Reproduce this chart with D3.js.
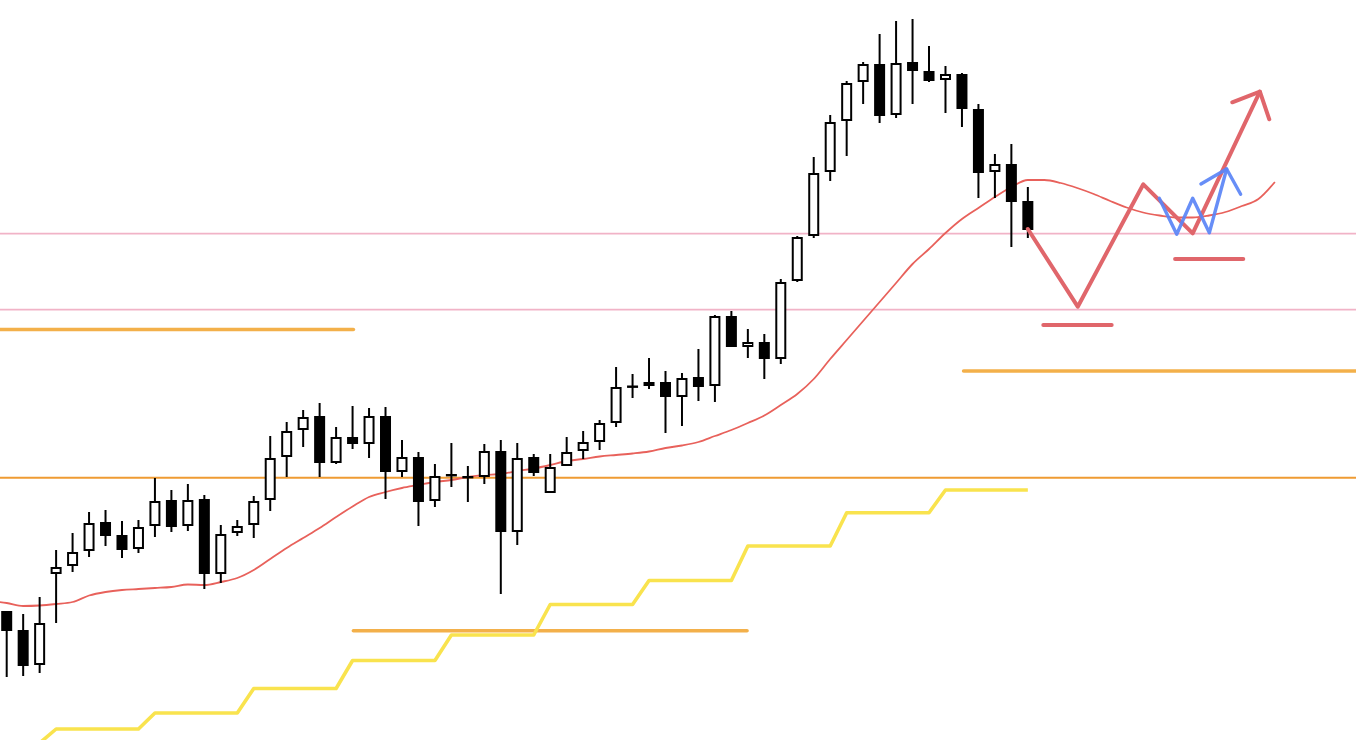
<!DOCTYPE html>
<html>
<head>
<meta charset="utf-8">
<script src="https://cdn.jsdelivr.net/npm/d3@7"></script>
<style>
  html, body { margin: 0; padding: 0; background: #ffffff; }
  svg { display: block; }
</style>
</head>
<body>
<svg id="chart" width="1356" height="740"></svg>
<script>
// Daily candles (price units)
const open  = [129,110,75,166,174,189,218,205,191,214,240,214,241,166,207,215,240,283,310,324,277,303,296,324,268,283,239,266,264,263,289,208,283,247,274,289,298,317,354.5,358,358,343,363,354,424,393,398,381,459,504,568,619,658,676,625,678,669,660,666,631,568,576,539];
const high  = [129,126,143,190,207,228,230,219,220,262,250,256,245,215,220,244,304,318,330,337,313,334,332,333,300,288,276,297,274,296,300,297,286,286,303,309,320,373,366,382,369,367,391,425,429,411,406,461,504,583,625,659,678,706,719,721,694,674,667,636,586,596,553];
const low   = [63,64,67,117,168,183,194,182,187,203,208,209,151,157,204,202,229,263,293,263,276,291,282,241,263,214,233,253,238,256,146,195,264,247,274,281,290,313,342,351,307,314,339,338,393,382,361,376,458,502,559,584,636,617,622,636,658,627,613,542,542,493,502];
const close = [109,74,117,173,188,217,204,190,213,239,213,240,166,206,214,239,282,309,323,277,303,296,324,268,283,238,264,264.5,263,289,208,282,267,273,288,298,317,353,352.5,354,343,362,353,424,393,398,381,458,503,567,618,657,676,624,677,669,659,666,631,567,576,538,510];

// Moving average, starting one bar before the first visible candle
const maStart = -1;
const maValues = [139,137,134,134.5,136,138,144.5,148,150,151,152,153,155.5,155,158,162,170,181,192,202,212,223,233.5,243,248,252,255,258,260,263,265,266,269,271.5,275,279,281,283.5,285,286.5,288.5,292,294.5,298,304,310,317,324.5,335,346,361,381,400,419,438,457,476,491,507,521,532,543,553,560,560,557,552,546,539,532.5,527.5,524.5,522.5,522.5,524.5,528,534,541,558];

// Higher-timeframe level (one value per bar)
const htfLevel = [-3,-3,-3,11,11,11,11,11,11,27,27,27,27,27,27,51.5,51.5,51.5,51.5,51.5,51.5,79.5,79.5,79.5,79.5,79.5,79.5,105,105,105,105,105,105,135.5,135.5,135.5,135.5,135.5,135.5,159.5,159.5,159.5,159.5,159.5,159.5,194,194,194,194,194,194,227.3,227.3,227.3,227.3,227.3,227.3,250,250,250,250,250,250];

// Horizontal levels
const pinkLevels = [506.3, 430.3];
const orangeLevel = 262.3;
const zoneSegments = [
  { from: -1, to: 21.05, price: 410.5 },
  { from: 21.05, to: 44.95, price: 109.3 },
  { from: 58.1, to: 84, price: 369 }
];

// Scenario drawings: [bar index, price]
const redPath   = [[62.0,511],[65.03,433.3],[69.01,555.7],[72.01,506.7],[76.09,648.3]];
const redHead   = [[74.41,637.7],[76.09,648.3],[76.66,620.7]];
const redMarks  = [{ from: 62.94, to: 67.09, price: 415 }, { from: 70.94, to: 75.08, price: 481 }];
const bluePath  = [[69.98,541.7],[71.04,505.7],[72.01,541.7],[73.02,507.3],[74.07,571]];
const blueHead  = [[72.51,556],[74.07,571],[74.92,545.7]];

const W = 1356, H = 740;
const svg = d3.select("#chart");

const x = d3.scaleLinear().domain([0, 82]).range([6.7, 6.7 + 82 * 16.47]);
const y = d3.scaleLinear().domain([0, 740]).range([H, 0]);

const line = d3.line().x(d => x(d[0])).y(d => y(d[1]));

// pink reference lines
svg.append("g").selectAll("line").data(pinkLevels).join("line")
  .attr("x1", 0).attr("x2", W)
  .attr("y1", d => y(d)).attr("y2", d => y(d))
  .attr("stroke", "#f1b3c7").attr("stroke-width", 1.8);

// thin orange level
svg.append("line")
  .attr("x1", 0).attr("x2", W)
  .attr("y1", y(orangeLevel)).attr("y2", y(orangeLevel))
  .attr("stroke", "#ef9b33").attr("stroke-width", 2);

// thick orange zones
svg.append("g").selectAll("line").data(zoneSegments).join("line")
  .attr("x1", d => x(d.from)).attr("x2", d => x(d.to))
  .attr("y1", d => y(d.price)).attr("y2", d => y(d.price))
  .attr("stroke", "#f3b04a").attr("stroke-width", 3.6)
  .attr("stroke-linecap", "round");

// higher-timeframe stepped line
svg.append("path")
  .datum(htfLevel.map((v, i) => [i, v]))
  .attr("d", line)
  .attr("fill", "none")
  .attr("stroke", "#f9e34e").attr("stroke-width", 3.6)
  .attr("stroke-linejoin", "round");

// moving average
svg.append("path")
  .datum(maValues.map((v, i) => [i + maStart, v]))
  .attr("d", line.curve(d3.curveMonotoneX))
  .attr("fill", "none")
  .attr("stroke", "#e8615b").attr("stroke-width", 1.8);
line.curve(d3.curveLinear);

// candles
const bars = open.map((o, i) => ({ i, o, h: high[i], l: low[i], c: close[i] }));
const bw = 11;
const g = svg.append("g");
g.selectAll("line.wick").data(bars).join("line")
  .attr("class", "wick")
  .attr("x1", d => x(d.i)).attr("x2", d => x(d.i))
  .attr("y1", d => y(d.h)).attr("y2", d => y(d.l))
  .attr("stroke", "#000").attr("stroke-width", 2);
g.selectAll("rect.body").data(bars).join("rect")
  .attr("class", "body")
  .attr("x", d => x(d.i) - bw / 2 + 1)
  .attr("width", bw - 2)
  .attr("y", d => y(Math.max(d.o, d.c)) + 1)
  .attr("height", d => Math.max(Math.abs(y(d.o) - y(d.c)) - 2, 0.4))
  .attr("fill", d => d.c >= d.o ? "#ffffff" : "#000000")
  .attr("stroke", "#000").attr("stroke-width", 2);

// scenario drawings
const red = "#e0666b", blue = "#5a84f6";
svg.append("g").selectAll("line").data(redMarks).join("line")
  .attr("x1", d => x(d.from)).attr("x2", d => x(d.to))
  .attr("y1", d => y(d.price)).attr("y2", d => y(d.price))
  .attr("stroke", red).attr("stroke-width", 4).attr("stroke-linecap", "round");
[redPath, redHead].forEach(p => svg.append("path").datum(p).attr("d", line)
  .attr("fill", "none").attr("stroke", red).attr("stroke-width", 4)
  .attr("stroke-linejoin", "round").attr("stroke-linecap", "round"));
[bluePath, blueHead].forEach(p => svg.append("path").datum(p).attr("d", line)
  .attr("fill", "none").attr("stroke", blue).attr("stroke-width", 3.4)
  .attr("stroke-opacity", 0.92)
  .attr("stroke-linejoin", "round").attr("stroke-linecap", "round"));
</script>
</body>
</html>
